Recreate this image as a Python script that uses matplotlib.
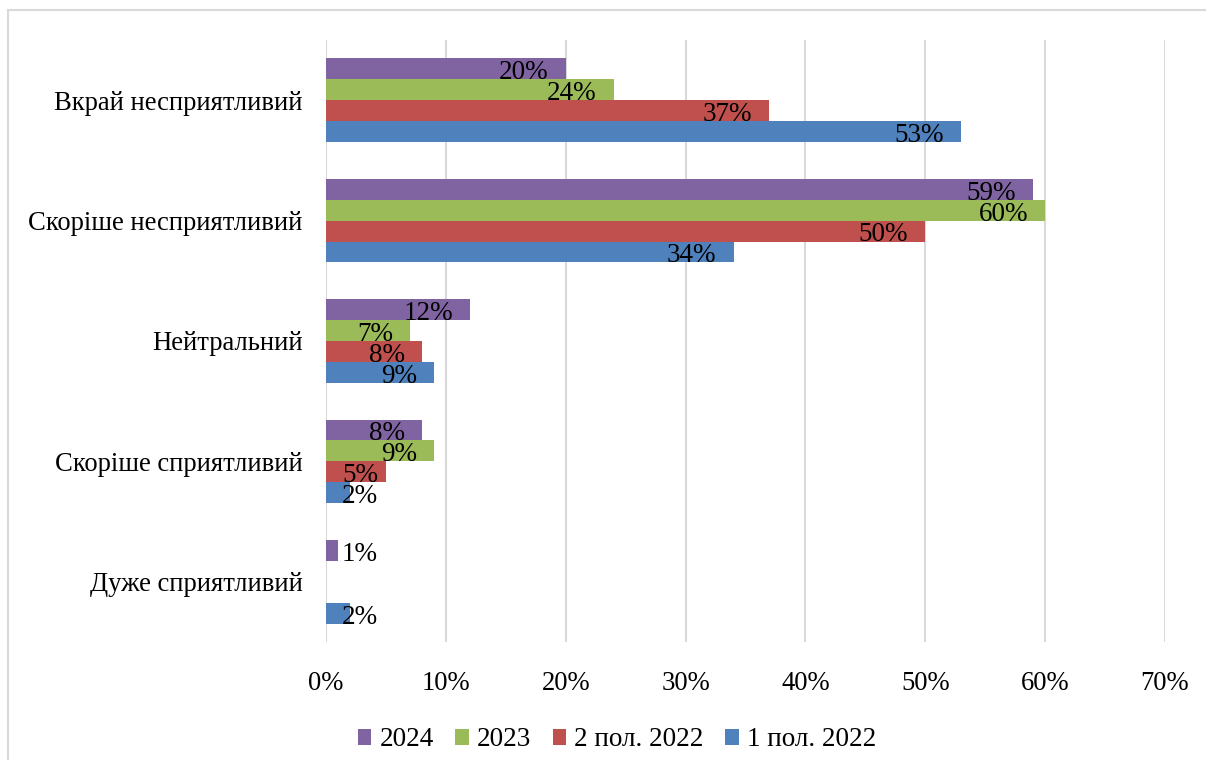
import numpy as np
import matplotlib
matplotlib.use("Agg")
import matplotlib.pyplot as plt
from matplotlib.transforms import offset_copy
from matplotlib.ticker import FuncFormatter

categories = ["Вкрай несприятливий", "Скоріше несприятливий", "Нейтральний",
              "Скоріше сприятливий", "Дуже сприятливий"]
series_names = ["2024", "2023", "2 пол. 2022", "1 пол. 2022"]
v2024 = [0.20, 0.59, 0.12, 0.08, 0.01]
v2023 = [0.24, 0.60, 0.07, 0.09, np.nan]
v2022h2 = [0.37, 0.50, 0.08, 0.05, np.nan]
v2022h1 = [0.53, 0.34, 0.09, 0.02, 0.02]
series_values = [v2024, v2023, v2022h2, v2022h1]
colors = ["#8064A2", "#9BBB59", "#C0504D", "#4F81BD"]
xticks = [0, 0.1, 0.2, 0.3, 0.4, 0.5, 0.6, 0.7]

plt.rcParams['font.family'] = ['Liberation Serif', 'DejaVu Serif']
FS_AX = 19.2
FS_LBL = 19.5

W, H = 1206, 760
fig = plt.figure(figsize=(W / 100, H / 100), dpi=100)
ax = fig.add_axes([326 / W, 1 - 642 / H, (1165 - 326) / W, (642 - 40) / H])

# light border around chart area
fig.patches.append(plt.Rectangle((8 / W, -0.1), 1.2, 1 - 10 / H + 0.1,
                                 transform=fig.transFigure, fill=False,
                                 edgecolor="#D9D9D9", linewidth=1.5))

y = np.arange(len(categories))
h = 0.174
offsets = [-1.5 * h, -0.5 * h, 0.5 * h, 1.5 * h]
for name, vals, col, off in zip(series_names, series_values, colors, offsets):
    ax.barh(y + off, vals, height=h, color=col, label=name, zorder=3)

ax.set_xlim(0, 0.7)
ax.set_ylim(len(categories) - 0.5, -0.5)
ax.set_xticks(xticks)
ax.xaxis.set_major_formatter(FuncFormatter(lambda v, p: f"{round(v * 100)}%"))
ax.set_yticks(y)
ax.set_yticklabels(categories)
ax.tick_params(axis='both', length=0, labelsize=FS_AX, colors='black')
ax.tick_params(axis='x', pad=21)
ax.tick_params(axis='y', pad=17)
ax.grid(axis='x', color="#D9D9D9", linewidth=1.5, zorder=0)
for s in ax.spines.values():
    s.set_visible(False)

# data labels (inside end, Excel-like)
fig.canvas.draw()
renderer = fig.canvas.get_renderer()
pad = 0.0142
min_left = 0.0133
trans = offset_copy(ax.transData, fig=fig, x=0, y=-7.5, units='points')
inv = ax.transData.inverted()
for vals, off in zip(series_values, offsets):
    for yi, v in zip(y, vals):
        if v is None or np.isnan(v):
            continue
        t = ax.text(v - pad, yi + off, f"{round(v * 100)}%", ha='right', va='baseline',
                    fontsize=FS_LBL, transform=trans, zorder=5)
        bb = t.get_window_extent(renderer)
        left_data = inv.transform((bb.x0, bb.y0))[0]
        if left_data < min_left:
            t.set_ha('left')
            t.set_x(min_left)

fig.legend(loc='center', bbox_to_anchor=(617 / W, 1 - 740 / H), ncol=4, frameon=False,
           fontsize=FS_LBL, handlelength=0.5, handleheight=0.5, handletextpad=0.3,
           columnspacing=0.8, borderaxespad=0)

fig.savefig("out.png", dpi=100)
